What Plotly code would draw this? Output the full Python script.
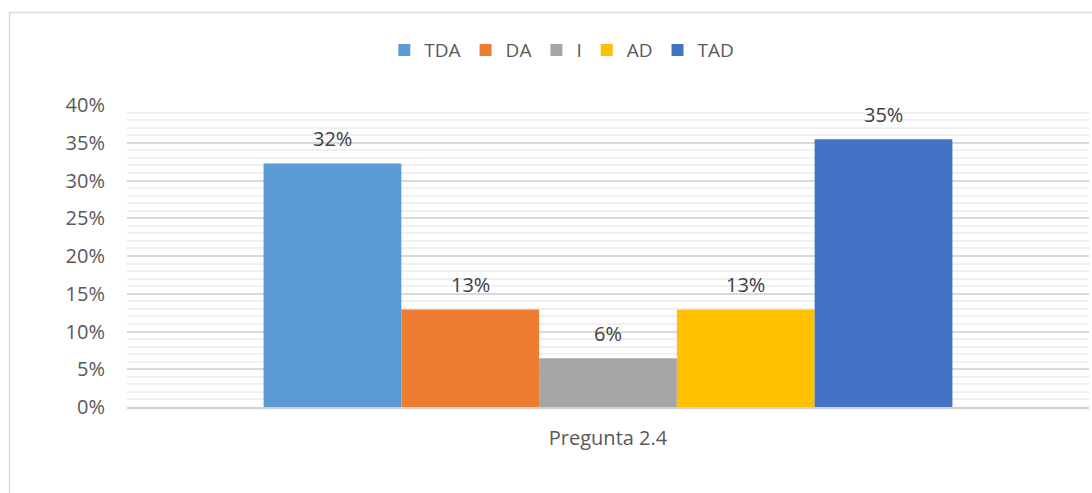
import plotly.graph_objects as go

categories = ["Pregunta 2.4"]
series_names = ["TDA", "DA", "I", "AD", "TAD"]
series_values = [0.3226, 0.1290, 0.0645, 0.1290, 0.3548]
series_labels = ["32%", "13%", "6%", "13%", "35%"]
colors = ["#5B9BD5", "#ED7D31", "#A5A5A5", "#FFC000", "#4472C4"]
y_ticks = [0, 0.05, 0.10, 0.15, 0.20, 0.25, 0.30, 0.35, 0.40]
y_ticklabels = ["0%", "5%", "10%", "15%", "20%", "25%", "30%", "35%", "40%"]

FONT = "Open Sans"
BARGAP = 0.284

fig = go.Figure()
for name, val, col in zip(series_names, series_values, colors):
    fig.add_trace(go.Bar(x=categories, y=[val], name=name, marker=dict(color=col, line=dict(width=0))))

n = len(series_names)
group_w = 1 - BARGAP
w = group_w / n
annotations = []
for i, (val, lab) in enumerate(zip(series_values, series_labels)):
    xc = -group_w / 2 + w * (i + 0.5)
    annotations.append(dict(x=xc, y=val, xref="x", yref="y", text=lab, showarrow=False,
                            yanchor="middle", yshift=25,
                            font=dict(family=FONT, size=20, color="#404040")))

fig.update_layout(
    width=1092, height=493,
    margin=dict(l=127, r=3, t=105, b=86),
    paper_bgcolor="white", plot_bgcolor="white",
    barmode="group", bargap=BARGAP, bargroupgap=0,
    font=dict(family=FONT, size=20, color="#595959"),
    legend=dict(orientation="h", x=0.452, xanchor="center", y=1.182, yanchor="middle",
                font=dict(family=FONT, size=19, color="#595959"), itemwidth=30,
                traceorder="normal"),
    annotations=annotations,
    shapes=[dict(type="rect", xref="paper", yref="paper", x0=-0.1221, x1=1.1, y0=-0.5, y1=1.3063,
                 line=dict(color="#d9d9d9", width=1.5), fillcolor="rgba(0,0,0,0)", layer="below")],
)
fig.update_xaxes(showgrid=False, showline=True, linecolor="#d0d0d0", linewidth=1.5,
                 ticks="", ticklabelstandoff=12, tickfont=dict(family=FONT, size=20, color="#595959"))
fig.update_yaxes(range=[0, 0.40], tickvals=y_ticks, ticktext=y_ticklabels,
                 showgrid=True, gridcolor="#d9d9d9", gridwidth=1.5, zeroline=False,
                 minor=dict(dtick=0.01, showgrid=True, gridcolor="#f0f0f0", gridwidth=1.5),
                 ticks="", ticklabelstandoff=21, showline=False,
                 tickfont=dict(family=FONT, size=20, color="#595959"))

fig.write_html("out.html", config={"displayModeBar": False},
               post_script="document.body.style.margin='0';document.body.style.overflow='hidden';")
